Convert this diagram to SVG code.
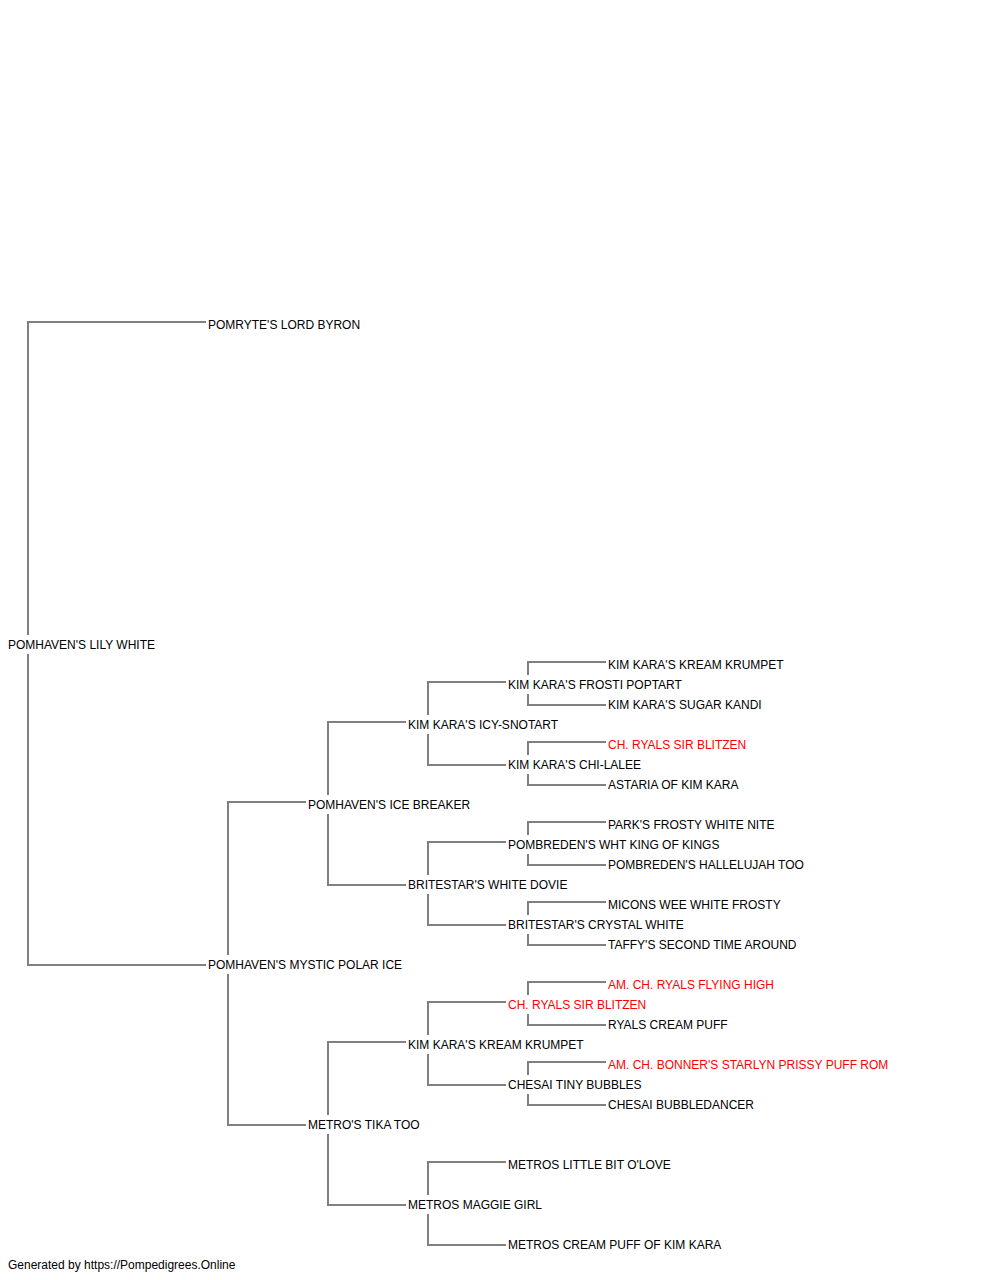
<svg xmlns="http://www.w3.org/2000/svg" width="1000" height="1280" viewBox="0 0 1000 1280">
<style>
text{font-family:"Liberation Sans",Arial,sans-serif;font-size:12px;fill:#000}
text.ch{fill:#ff0000}
#connectors path{fill:none;stroke:#808080;stroke-width:2}
</style>
<rect width="1000" height="1280" fill="#fff"/>
<g id="connectors">
<path d="M206,322H28V635M28,654V965H206"/>
<path d="M306,802H228V955M228,974V1125H306"/>
<path d="M406,722H328V795M328,814V885H406"/>
<path d="M406,1042H328V1115M328,1134V1205H406"/>
<path d="M506,682H428V715M428,734V765H506"/>
<path d="M506,842H428V875M428,894V925H506"/>
<path d="M506,1002H428V1035M428,1054V1085H506"/>
<path d="M506,1162H428V1195M428,1214V1245H506"/>
<path d="M606,662H528V675M528,694V705H606"/>
<path d="M606,742H528V755M528,774V785H606"/>
<path d="M606,822H528V835M528,854V865H606"/>
<path d="M606,902H528V915M528,934V945H606"/>
<path d="M606,982H528V995M528,1014V1025H606"/>
<path d="M606,1062H528V1075M528,1094V1105H606"/>
</g>
<g id="n-root"><text x="8" y="649">POMHAVEN'S LILY WHITE</text></g>
<g id="n-s"><text x="208" y="329">POMRYTE'S LORD BYRON</text></g>
<g id="n-d"><text x="208" y="969">POMHAVEN'S MYSTIC POLAR ICE</text></g>
<g id="n-ds"><text x="308" y="809">POMHAVEN'S ICE BREAKER</text></g>
<g id="n-dd"><text x="308" y="1129">METRO'S TIKA TOO</text></g>
<g id="n-dss"><text x="408" y="729">KIM KARA'S ICY-SNOTART</text></g>
<g id="n-dsd"><text x="408" y="889">BRITESTAR'S WHITE DOVIE</text></g>
<g id="n-dds"><text x="408" y="1049">KIM KARA'S KREAM KRUMPET</text></g>
<g id="n-ddd"><text x="408" y="1209">METROS MAGGIE GIRL</text></g>
<g id="n-dsss"><text x="508" y="689">KIM KARA'S FROSTI POPTART</text></g>
<g id="n-dssd"><text x="508" y="769">KIM KARA'S CHI-LALEE</text></g>
<g id="n-dsds"><text x="508" y="849">POMBREDEN'S WHT KING OF KINGS</text></g>
<g id="n-dsdd"><text x="508" y="929">BRITESTAR'S CRYSTAL WHITE</text></g>
<g id="n-ddss"><text class="ch" x="508" y="1009">CH. RYALS SIR BLITZEN</text></g>
<g id="n-ddsd"><text x="508" y="1089">CHESAI TINY BUBBLES</text></g>
<g id="n-ddds"><text x="508" y="1169">METROS LITTLE BIT O'LOVE</text></g>
<g id="n-dddd"><text x="508" y="1249">METROS CREAM PUFF OF KIM KARA</text></g>
<g id="n-g1"><text x="608" y="669">KIM KARA'S KREAM KRUMPET</text></g>
<g id="n-g2"><text x="608" y="709">KIM KARA'S SUGAR KANDI</text></g>
<g id="n-g3"><text class="ch" x="608" y="749">CH. RYALS SIR BLITZEN</text></g>
<g id="n-g4"><text x="608" y="789">ASTARIA OF KIM KARA</text></g>
<g id="n-g5"><text x="608" y="829">PARK'S FROSTY WHITE NITE</text></g>
<g id="n-g6"><text x="608" y="869">POMBREDEN'S HALLELUJAH TOO</text></g>
<g id="n-g7"><text x="608" y="909">MICONS WEE WHITE FROSTY</text></g>
<g id="n-g8"><text x="608" y="949">TAFFY'S SECOND TIME AROUND</text></g>
<g id="n-g9"><text class="ch" x="608" y="989">AM. CH. RYALS FLYING HIGH</text></g>
<g id="n-g10"><text x="608" y="1029">RYALS CREAM PUFF</text></g>
<g id="n-g11"><text class="ch" x="608" y="1069">AM. CH. BONNER'S STARLYN PRISSY PUFF ROM</text></g>
<g id="n-g12"><text x="608" y="1109">CHESAI BUBBLEDANCER</text></g>
<text x="8" y="1269">Generated by https://Pompedigrees.Online</text>
</svg>
